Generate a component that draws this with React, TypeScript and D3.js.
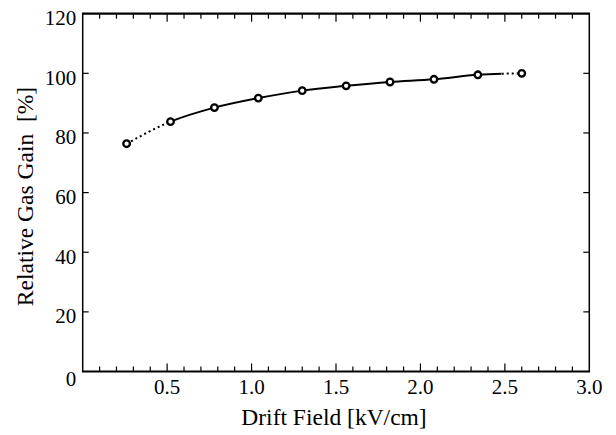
import React from "react";
import * as d3 from "d3";

const driftField = [0.26, 0.52, 0.78, 1.04, 1.3, 1.56, 1.82, 2.08, 2.34, 2.6];
const relGain = [76.4, 83.8, 88.5, 91.7, 94.2, 95.8, 97.1, 98.0, 99.5, 100.0];
const xTicks = [0.5, 1.0, 1.5, 2.0, 2.5, 3.0];
const yTicks = [0, 20, 40, 60, 80, 100, 120];
const xMinor = d3.range(1, 30).map((i) => i / 10);
const solidRange = [0.52, 2.48];

const W = 616;
const H = 435;
const L = 82.7;
const R = 589.3;
const T = 13.7;
const B = 371.5;

const FONT = 'Tinos, "Times New Roman", Times, "Nimbus Roman", serif';

export default function App() {
  const x = d3.scaleLinear().domain([0, 3]).range([L, R]);
  const y = d3.scaleLinear().domain([0, 120]).range([B, T]);
  const pts = driftField.map((d, i) => [d, relGain[i]] as [number, number]);
  const line = d3
    .line<[number, number]>()
    .x((d) => x(d[0]))
    .y((d) => y(d[1]))
    .curve(d3.curveMonotoneX);
  const path = line(pts) || "";
  const tstyle = { fontFamily: FONT };
  const xs0 = x(solidRange[0]);
  const xs1 = x(solidRange[1]);
  return (
    <svg
      width={W}
      height={H}
      style={{ position: "absolute", left: 0, top: 0, background: "#fff" }}
    >
      <defs>
        <clipPath id="solid">
          <rect x={xs0} y={0} width={xs1 - xs0} height={H} />
        </clipPath>
        <clipPath id="dotL">
          <rect x={0} y={0} width={xs0} height={H} />
        </clipPath>
        <clipPath id="dotR">
          <rect x={xs1} y={0} width={W - xs1} height={H} />
        </clipPath>
      </defs>
      {/* frame */}
      <line x1={L} x2={L} y1={T} y2={B} stroke="#000" strokeWidth={1.5} />
      <line x1={R} x2={R} y1={T} y2={B} stroke="#000" strokeWidth={1.5} />
      <line x1={L - 0.7} x2={R + 0.7} y1={T} y2={T} stroke="#000" strokeWidth={2.2} />
      <line x1={L - 0.7} x2={R + 0.7} y1={B} y2={B} stroke="#000" strokeWidth={2.2} />
      {/* x minor + major ticks */}
      {xMinor.map((t) => {
        const major = Math.abs(t * 2 - Math.round(t * 2)) < 1e-6;
        const len = major ? 8 : 5;
        return (
          <g key={"xm" + t}>
            <line x1={x(t)} x2={x(t)} y1={B} y2={B - len} stroke="#000" strokeWidth={1.2} />
            <line x1={x(t)} x2={x(t)} y1={T} y2={T + len} stroke="#000" strokeWidth={1.2} />
          </g>
        );
      })}
      {/* y ticks */}
      {yTicks.slice(1, -1).map((t) => (
        <g key={"yt" + t}>
          <line x1={L} x2={L + 6} y1={y(t)} y2={y(t)} stroke="#000" strokeWidth={1.2} />
          <line x1={R} x2={R - 6} y1={y(t)} y2={y(t)} stroke="#000" strokeWidth={1.2} />
        </g>
      ))}
      {/* tick labels */}
      {xTicks.map((t) => (
        <text
          key={"xl" + t}
          x={x(t)}
          y={393.5}
          textAnchor="middle"
          fontFamily={FONT}
          style={tstyle}
          fontSize={21}
          fill="#000"
        >
          {t.toFixed(1)}
        </text>
      ))}
      {yTicks.map((t) => (
        <text
          key={"yl" + t}
          x={L - 6.5}
          y={y(t) + (t === 0 ? 14 : 11.5)}
          textAnchor="end"
          fontFamily={FONT}
          style={tstyle}
          fontSize={21}
          fill="#000"
        >
          {t}
        </text>
      ))}
      {/* axis titles */}
      <text
        x={334}
        y={425}
        textAnchor="middle"
        fontFamily={FONT}
        style={tstyle}
        fontSize={23.5}
        fill="#000"
      >
        Drift Field [kV/cm]
      </text>
      <text
        transform="translate(33,196.5) rotate(-90)"
        textAnchor="middle"
        fontFamily={FONT}
        style={{ fontFamily: FONT, whiteSpace: "pre" }}
        fontSize={23.5}
        fill="#000"
      >
        {"Relative Gas Gain  [%]"}
      </text>
      {/* curve */}
      <path d={path} fill="none" stroke="#000" strokeWidth={2} clipPath="url(#solid)" />
      <path
        d={path}
        fill="none"
        stroke="#000"
        strokeWidth={2}
        strokeDasharray="2,3"
        clipPath="url(#dotL)"
      />
      <path
        d={path}
        fill="none"
        stroke="#000"
        strokeWidth={2}
        strokeDasharray="2,3"
        clipPath="url(#dotR)"
      />
      {/* markers */}
      {pts.map((d, i) => (
        <circle
          key={"p" + i}
          cx={x(d[0])}
          cy={y(d[1])}
          r={3.3}
          fill="#fff"
          stroke="#000"
          strokeWidth={2.3}
        />
      ))}
    </svg>
  );
}
